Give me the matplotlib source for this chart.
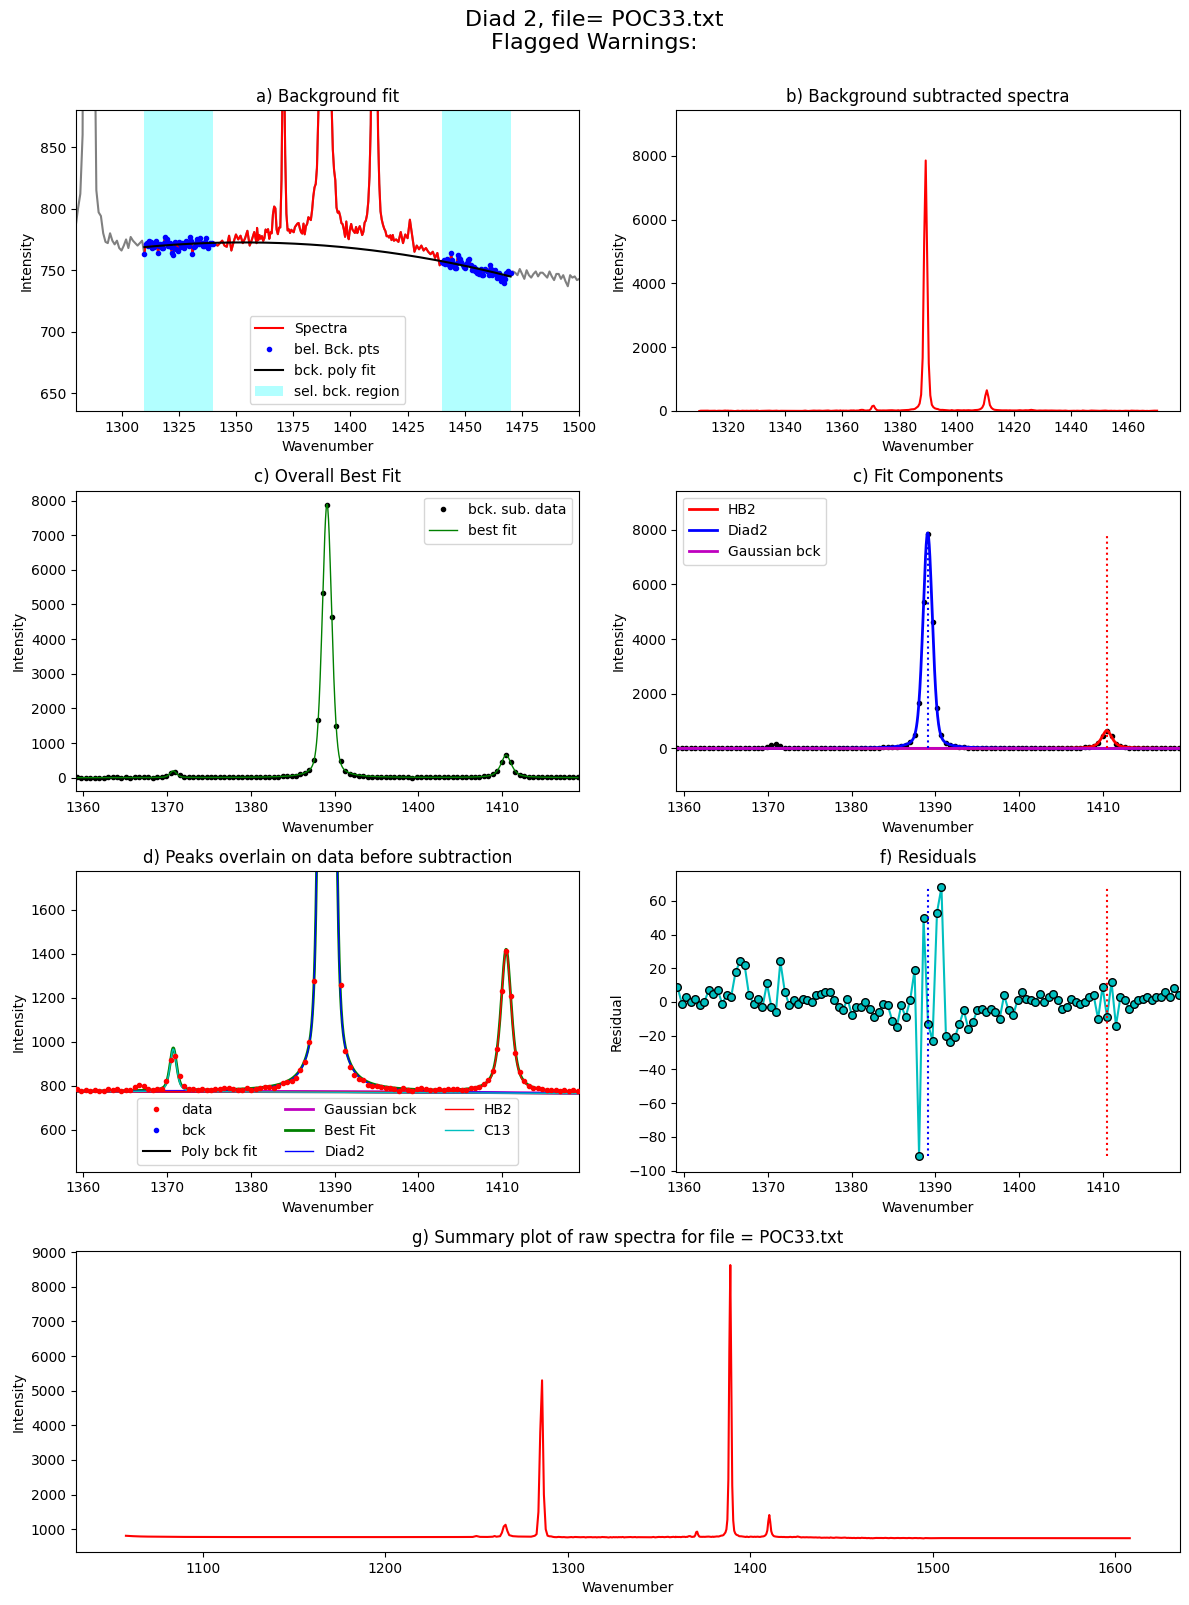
import numpy as np
import matplotlib
matplotlib.use('Agg')
import matplotlib.pyplot as plt

filename = 'POC33.txt'

# raw spectrum, far left part (only seen in panel g)
wn_far_left = [1058, 1062, 1066, 1070, 1080, 1090, 1100, 1120, 1140, 1160, 1180, 1200,
               1220, 1240, 1248, 1250, 1252, 1256, 1259, 1260, 1261, 1263, 1264, 1265,
               1266, 1267, 1268, 1270, 1273, 1276, 1279]
int_far_left = [812, 800, 792, 788, 782, 779, 777, 775, 774, 773, 773, 774,
                774, 776, 778, 805, 780, 778, 785, 805, 785, 800, 900, 1080,
                1130, 950, 830, 800, 790, 788, 787]

# raw spectrum 1280 - 1309 (1 cm-1 steps)
int_left_a = [786, 800, 812, 860, 1500, 3800, 5300, 2000, 1000, 815,
              797, 794, 780, 773, 772, 780, 774, 771, 774, 768,
              766, 770, 775, 768, 777, 774, 772, 770, 772, 774]
# raw spectrum 1310 - 1340 (0.5 cm-1 steps, first bck region)
int_bck_left = [763, 771, 772, 770, 774, 773, 773, 768, 769, 772,
                774, 771, 764, 770, 771, 768, 768, 772, 777, 773,
                775, 770, 772, 769, 764, 762, 768, 773, 767, 766,
                773, 771, 769, 772, 770, 768, 774, 771, 773, 770,
                777, 774, 763, 769, 770, 772, 775, 772, 771, 776,
                772, 770, 770, 773, 776, 770, 768, 772, 771, 772, 771]
# raw spectrum 1341 - 1359 (1 cm-1 steps)
int_left_b = [771, 770, 772, 774, 770, 769, 778, 766, 773, 779,
              775, 778, 772, 776, 782, 770, 775, 781, 772]

# raw spectrum 1420 - 1439 (1 cm-1 steps)
int_right_a = [775, 773, 781, 772, 779, 776, 791, 778, 765, 770,
               767, 770, 766, 768, 765, 763, 765, 760, 764, 754]
# raw spectrum 1440 - 1470 (0.5 cm-1 steps, second bck region)
int_bck_right = [757, 756, 758, 755, 759, 757, 754, 753, 764, 758,
                 755, 752, 752, 756, 762, 760, 759, 757, 754, 753,
                 752, 755, 756, 758, 759, 754, 750, 751, 753, 749,
                 751, 748, 747, 750, 751, 746, 746, 750, 751, 749,
                 749, 746, 754, 751, 746, 748, 750, 747, 744, 747,
                 748, 745, 741, 744, 740, 743, 748, 747, 749, 748, 748]
# raw spectrum 1471 - 1500 (1 cm-1 steps)
int_right_b = [749, 748, 746, 751, 747, 743, 750, 746, 744, 747,
               749, 745, 748, 748, 746, 744, 749, 745, 742, 747,
               747, 743, 746, 741, 737, 746, 744, 745, 742, 743]

# raw spectrum, far right part (only seen in panel g)
wn_far_right = [1505, 1520, 1540, 1560, 1580, 1600, 1608]
int_far_right = [745, 744, 744, 743, 743, 742, 742]

# residuals of the peak fit (panel f), 1359.22 - 1419.04
residuals = [9, -1, 3, 0, 2, -2, 0, 7, 5, 7, -1, 4, 3, 18, 24, 22, 4, -1, 2, -3,
             11, -3, -6, 24, 6, -2, 1, -1, 2, 1, 0, 4, 5, 6, 6, 1, -3, -5, 2, -8,
             -3, -3, 0, -4, -9, -6, -1, -2, -11, -15, -2, -9, 1, 19, -91, 50, -13, -23, 53, 68,
             -20, -24, -21, -13, -5, -16, -12, -5, -4, -6, -4, -6, -10, 4, -5, -8, 1, 6, 2, 1,
             0, 5, 0, 3, 5, 1, -4, -3, 2, 0, -1, 0, 3, 4, -10, 9, -9, 12, -14, 3,
             1, -4, -1, 1, 2, 3, 1, 3, 3, 6, 3, 8, 4]

# fitted peaks (pseudo-voigt)
peak_names = ['Diad2', 'HB2', 'C13']
peak_centers = [1389.09, 1410.47, 1370.74]
peak_heights = [7890, 650, 194]
peak_fwhm = [1.33, 1.5, 0.95]
peak_eta = [0.3, 0.7, 0.5]
gauss_bck = [1390, 3, 25]  # center, height, sigma

bck_regions = [(1310, 1340), (1440, 1470)]


def pvoigt(x, center, height, fwhm, eta):
    g = np.exp(-4 * np.log(2) * (x - center)**2 / fwhm**2)
    l = 1 / (1 + 4 * (x - center)**2 / fwhm**2)
    return height * ((1 - eta) * g + eta * l)


def gauss(x, center, height, sigma):
    return height * np.exp(-(x - center)**2 / (2 * sigma**2))


def model(x):
    comps = {}
    for name, c, h, w, e in zip(peak_names, peak_centers, peak_heights, peak_fwhm, peak_eta):
        comps[name] = pvoigt(x, c, h, w, e)
    comps['Gaussian bck'] = gauss(x, *gauss_bck)
    total = sum(comps.values())
    return total, comps


# build spectrum
x_fit = np.linspace(1359.22, 1419.04, len(residuals))
resid = np.array(residuals, dtype=float)
y_sub_fit = model(x_fit)[0] + resid

x_known = np.concatenate([
    1280 + np.arange(len(int_left_a)),
    1310 + 0.5 * np.arange(len(int_bck_left)),
    1341 + np.arange(len(int_left_b)),
    1420 + np.arange(len(int_right_a)),
    1440 + 0.5 * np.arange(len(int_bck_right)),
    1471 + np.arange(len(int_right_b)),
])
y_known = np.array(int_left_a + int_bck_left + int_left_b
                   + int_right_a + int_bck_right + int_right_b, dtype=float)

in_bck = np.zeros(len(x_known), dtype=bool)
for lo, hi in bck_regions:
    in_bck |= (x_known >= lo) & (x_known <= hi)
x_bck = x_known[in_bck]
y_bck = y_known[in_bck]
poly = np.poly1d(np.polyfit(x_bck, y_bck, 2))

y_raw_fit = y_sub_fit + poly(x_fit)

x_all = np.concatenate([wn_far_left, x_known, x_fit, wn_far_right])
y_all = np.concatenate([int_far_left, y_known, y_raw_fit, int_far_right])
order = np.argsort(x_all)
x_all = x_all[order]
y_all = y_all[order]

sel = (x_all >= 1310) & (x_all <= 1470)
x_sel = x_all[sel]
y_sel = y_all[sel]

xx = np.linspace(x_fit.min(), x_fit.max(), 1500)
fit_xx, comps_xx = model(xx)

fig = plt.figure(figsize=(11.89, 16.05), dpi=100)
gs = fig.add_gridspec(4, 2, left=0.0637, right=0.9924, top=0.9312, bottom=0.033,
                      hspace=0.265, wspace=0.193)
ax1 = fig.add_subplot(gs[0, 0])
ax2 = fig.add_subplot(gs[0, 1])
ax3 = fig.add_subplot(gs[1, 0])
ax4 = fig.add_subplot(gs[1, 1])
ax5 = fig.add_subplot(gs[2, 0])
ax6 = fig.add_subplot(gs[2, 1])
ax7 = fig.add_subplot(gs[3, :])

fig.suptitle('Diad 2, file= ' + filename + '\nFlagged Warnings:', fontsize=16, y=0.994)

# a) background fit
ax1.plot(x_all, y_all, '-', color='grey')
ax1.plot(x_sel, y_sel, '-r', label='Spectra')
ax1.plot(x_bck, y_bck, '.b', label='bel. Bck. pts')
ax1.plot(x_sel, poly(x_sel), '-k', label='bck. poly fit')
for i, (lo, hi) in enumerate(bck_regions):
    ax1.axvspan(lo, hi, color='cyan', alpha=0.3, lw=0,
                label='sel. bck. region' if i == 0 else None)
ax1.set_xlim(1280, 1500)
ax1.set_ylim(635.7, 879.7)
ax1.set_title('a) Background fit')
ax1.set_xlabel('Wavenumber')
ax1.set_ylabel('Intensity')
ax1.legend(loc='lower center')

# b) background subtracted
y_sub = y_sel - poly(x_sel)
ax2.plot(x_sel, y_sub, '-r')
ax2.set_ylim(np.min(y_sub), 1.2 * np.max(y_sub))
ax2.set_title('b) Background subtracted spectra')
ax2.set_xlabel('Wavenumber')
ax2.set_ylabel('Intensity')

# c) overall best fit
ax3.plot(x_fit, y_sub_fit, '.k', label='bck. sub. data')
ax3.plot(xx, fit_xx, '-g', lw=1, label='best fit')
ax3.set_xlim(1359.1, 1419.2)
ax3.set_title('c) Overall Best Fit')
ax3.set_xlabel('Wavenumber')
ax3.set_ylabel('Intensity')
ax3.legend(loc='upper right')

# c) fit components
ymax = np.max(y_sub_fit)
ax4.plot(x_fit, y_sub_fit, '.k')
ax4.plot(xx, comps_xx['HB2'], '-r', lw=2, label='HB2')
ax4.plot(xx, comps_xx['Diad2'], '-b', lw=2, label='Diad2')
ax4.plot(xx, comps_xx['Gaussian bck'], '-m', lw=2, label='Gaussian bck')
ax4.plot([peak_centers[0], peak_centers[0]], [0, ymax * 0.99], ':b')
ax4.plot([peak_centers[1], peak_centers[1]], [0, ymax * 0.99], ':r')
ax4.set_xlim(1359.1, 1419.2)
ax4.set_ylim(-0.2 * ymax, 1.2 * ymax)
ax4.set_title('c) Fit Components')
ax4.set_xlabel('Wavenumber')
ax4.set_ylabel('Intensity')
ax4.legend(loc='upper left')

# d) peaks overlain on data
pxx = poly(xx)
ax5.plot(x_fit, y_raw_fit, '.r', label='data', zorder=5)
ax5.plot(x_bck, y_bck, '.b', label='bck')
ax5.plot(xx, pxx, '-k', label='Poly bck fit')
ax5.plot(xx, comps_xx['Gaussian bck'] + pxx, '-m', lw=2, label='Gaussian bck')
ax5.plot(xx, fit_xx + pxx, '-g', lw=2, label='Best Fit')
ax5.plot(xx, comps_xx['Diad2'] + pxx, '-b', lw=1, label='Diad2')
ax5.plot(xx, comps_xx['HB2'] + pxx, '-r', lw=1, label='HB2')
ax5.plot(xx, comps_xx['C13'] + pxx, '-c', lw=1, label='C13')
ax5.set_xlim(1359.1, 1419.2)
ax5.set_ylim(408, 1776)
ax5.set_title('d) Peaks overlain on data before subtraction')
ax5.set_xlabel('Wavenumber')
ax5.set_ylabel('Intensity')
ax5.legend(loc='lower center', ncol=3)

# f) residuals
ax6.plot(x_fit, resid, '-c')
ax6.plot(x_fit, resid, 'oc', mec='k', ms=5.5)
ax6.plot([peak_centers[0], peak_centers[0]], [resid.min(), resid.max()], ':b')
ax6.plot([peak_centers[1], peak_centers[1]], [resid.min(), resid.max()], ':r')
ax6.set_xlim(1359.1, 1419.2)
ax6.set_ylim(-100.6, 77.6)
ax6.set_title('f) Residuals')
ax6.set_xlabel('Wavenumber')
ax6.set_ylabel('Residual')

# g) summary
ax7.plot(x_all, y_all, '-r')
ax7.set_title('g) Summary plot of raw spectra for file = ' + filename)
ax7.set_xlabel('Wavenumber')
ax7.set_ylabel('Intensity')

fig.savefig('out.png', dpi=100)
